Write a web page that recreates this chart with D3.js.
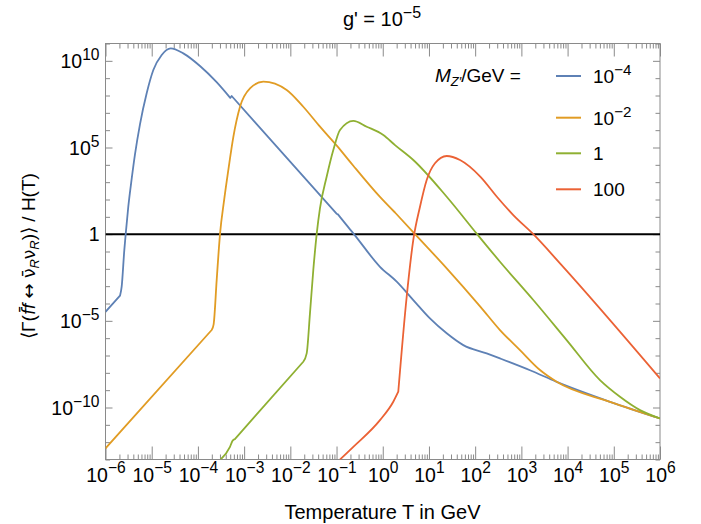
<!DOCTYPE html>
<html><head><meta charset="utf-8">
<script src="https://cdn.jsdelivr.net/npm/d3@7"></script>
<style>
body{margin:0;background:#fff}
svg{display:block}
text{font-family:"Liberation Sans",Arial,Helvetica,sans-serif;fill:#000}
</style>
</head><body>
<svg id="chart" width="701" height="524"></svg>
<script>
// ---------- data (log10 values) ----------
const xTickExps = [-6,-5,-4,-3,-2,-1,0,1,2,3,4,5,6];
const yLabelExps = [10,5,0,-5,-10];
const seriesLabels = [["10","−4"],["10","−2"],["1",""],["100",""]];
const seriesColors = ["#5E81B5","#E19C24","#8FB032","#EB6235"];
const titleText = ["g' = 10","−5"];

// M_Z' = 1e-4 GeV
const blueLogT = [-6,-5.686,-5.65,-5.593,-5.563,-5.507,-5.433,-5.362,-5.253,-5.109,-4.965,-4.784,-4.589,-4.316,-3.955,-3.6,-3.30,-3.27,-1.0,-0.97,-0.709,-0.637,-0.06,0.302,0.661,1.022,1.384,1.743,2.249,2.537,3.186,3.764,4.918,6];
const blueLogR = [-4.48,-3.55,-3.03,-0.92,0,1.58,3.2,4.6,6.35,8.13,9.47,10.34,10.72,10.43,9.7,8.78,7.86,7.97,1.18,1.14,0.28,0.05,-1.88,-2.74,-3.8,-4.86,-5.72,-6.4,-6.88,-7.17,-7.85,-8.52,-9.67,-10.63];
const blueCorners = [-5.686,-3.30,-3.27,-1.0,-0.97];

// M_Z' = 1e-2 GeV
const orangeLogT = [-6,-3.702,-3.66,-3.594,-3.544,-3.522,-3.436,-3.342,-3.234,-3.089,-2.873,-2.585,-2.079,-1.72,-1.358,-0.962,-0.637,-0.06,0.265,0.698,1.384,2.115,2.537,2.97,3.403,3.764,4.918,6];
const orangeLogR = [-12.36,-5.53,-5.2,-2.65,-0.73,0,1.9,3.7,5.6,7.35,8.41,8.80,8.32,7.35,6.2,5.01,3.95,2.15,1.25,0,-1.97,-4.19,-5.53,-6.69,-7.84,-8.52,-9.67,-10.63];
const orangeCorners = [-3.702,-0.962,0.265];

// M_Z' = 1 GeV
const greenLogT = [-3.507,-3.306,-3.25,-3.2,-1.72,-1.646,-1.575,-1.503,-1.43,-1.358,-1.214,-1.07,-0.925,-0.637,-0.348,0.012,0.265,0.661,1.384,2.043,2.537,3.258,3.98,4.701,5.134,5.567,6];
const greenLogR = [-13,-12.27,-11.92,-11.82,-7.36,-6.88,-4.57,-2.07,0,1.5,3.31,4.85,6.01,6.54,6.2,5.72,5.14,4.28,2.16,0,-1.59,-3.8,-6.11,-8.42,-9.38,-10.15,-10.63];
const greenCorners = [-3.2,-1.72];

// M_Z' = 100 GeV
const redLogT = [-0.925,-0.637,-0.06,0.228,0.336,0.518,0.661,0.806,0.951,1.13,1.384,1.672,2.115,2.47,2.825,3.258,3.836,6];
const redLogR = [-13,-12.27,-10.73,-9.67,-9.09,-3.61,-0.33,1.58,3.12,4.09,4.51,4.28,3.31,2.16,1.1,0,-1.68,-8.32];
const redCorners = [0.336];

const seriesLogT = [blueLogT, orangeLogT, greenLogT, redLogT];
const seriesLogR = [blueLogR, orangeLogR, greenLogR, redLogR];
const seriesCorners = [blueCorners, orangeCorners, greenCorners, redCorners];

// ---------- layout ----------
const L = 105.5, R = 660, T = 43.5, B = 459.5;
const svg = d3.select("#chart");
const x = d3.scaleLog().domain([1e-6, 1e6]).range([L, R]);
const y = d3.scaleLog().domain([1e-13, 1e11]).range([B, T]);
const frameColor = "#8a8a8a";

svg.append("defs").append("clipPath").attr("id","clip")
  .append("rect").attr("x",L).attr("y",T).attr("width",R-L).attr("height",B-T);

const xMinor = [];
for (let e=-6; e<6; e++) for (let m=2; m<=9; m++) xMinor.push(m*Math.pow(10,e));
const xMajor = xTickExps.map(e=>Math.pow(10,e));
const yAll = d3.range(-13,12).map(e=>Math.pow(10,e));
const yMajor = yLabelExps.map(e=>Math.pow(10,e));
const yMinor = yAll.filter(v=>!yMajor.some(m=>Math.abs(Math.log10(m)-Math.log10(v))<1e-9));

function styleAxis(g){
  g.select(".domain").remove();
  g.selectAll(".tick line").attr("stroke",frameColor).attr("stroke-width",1);
}
svg.append("g").attr("transform",`translate(0,${B})`)
  .call(d3.axisBottom(x).tickValues(xMinor).tickSize(-5).tickFormat("")).call(styleAxis);
svg.append("g").attr("transform",`translate(0,${T})`)
  .call(d3.axisTop(x).tickValues(xMinor).tickSize(-5).tickFormat("")).call(styleAxis);
svg.append("g").attr("transform",`translate(0,${T})`)
  .call(d3.axisTop(x).tickValues(xMajor).tickSize(-13).tickFormat("")).call(styleAxis);
const xAxisG = svg.append("g").attr("transform",`translate(0,${B})`)
  .call(d3.axisBottom(x).tickValues(xMajor).tickSize(-13).tickFormat("")).call(styleAxis);
svg.append("g").attr("transform",`translate(${L},0)`)
  .call(d3.axisLeft(y).tickValues(yMinor).tickSize(-4.5).tickFormat("")).call(styleAxis);
svg.append("g").attr("transform",`translate(${R},0)`)
  .call(d3.axisRight(y).tickValues(yMinor).tickSize(-4.5).tickFormat("")).call(styleAxis);
svg.append("g").attr("transform",`translate(${R},0)`)
  .call(d3.axisRight(y).tickValues(yMajor).tickSize(-7).tickFormat("")).call(styleAxis);
const yAxisG = svg.append("g").attr("transform",`translate(${L},0)`)
  .call(d3.axisLeft(y).tickValues(yMajor).tickSize(-7).tickFormat("")).call(styleAxis);

svg.append("rect").attr("x",L).attr("y",T).attr("width",R-L).attr("height",B-T)
  .attr("fill","none").attr("stroke",frameColor).attr("stroke-width",1);

function powLabel(sel, base, exp, size){
  sel.text(null);
  sel.append("tspan").text(base);
  if (exp) sel.append("tspan").attr("font-size", size*0.8).attr("dy", -size*0.42).text(exp);
}
const tickFont = 19.5;
xAxisG.selectAll(".tick").each(function(d){
  const e = Math.round(Math.log10(d));
  const t = d3.select(this).select("text").attr("font-size",tickFont).attr("fill","#000").attr("y",22).attr("dy",0);
  powLabel(t,"10", e<0 ? "−"+(-e) : String(e), tickFont);
});
yAxisG.selectAll(".tick").each(function(d){
  const e = Math.round(Math.log10(d));
  const t = d3.select(this).select("text").attr("font-size",tickFont).attr("fill","#000").attr("dy","0.35em").attr("x",-6);
  if (e===0) t.text("1");
  else powLabel(t,"10", e<0 ? "−"+(-e) : String(e), tickFont);
});

// curves: smooth pieces joined at the sharp corners seen in the reference
const plot = svg.append("g").attr("clip-path","url(#clip)");
plot.append("line").attr("x1",L).attr("x2",R).attr("y1",y(1)).attr("y2",y(1))
  .attr("stroke","#000").attr("stroke-width",2);
const line = d3.line().x(d=>x(d[0])).y(d=>y(d[1])).curve(d3.curveMonotoneX);
seriesLogT.forEach((lt,i)=>{
  const pts = lt.map((t,j)=>[Math.pow(10,t), Math.pow(10, seriesLogR[i][j])]);
  const cornerIdx = seriesCorners[i].map(c=>lt.indexOf(c));
  const cuts = [0, ...cornerIdx, lt.length-1];
  let d = "";
  for (let k=0; k<cuts.length-1; k++){
    const seg = line(pts.slice(cuts[k], cuts[k+1]+1));
    d += (k===0 ? seg : seg.replace(/^M[^LC]*/, ""));
  }
  plot.append("path").attr("d",d).attr("fill","none")
    .attr("stroke",seriesColors[i]).attr("stroke-width",1.8).attr("stroke-linejoin","round");
});

// title
const title = svg.append("text").attr("x",382).attr("y",26).attr("text-anchor","middle").attr("font-size",20);
powLabel(title, titleText[0], titleText[1], 20);

// x label
svg.append("text").attr("x",382.5).attr("y",519).attr("text-anchor","middle").attr("font-size",20)
  .text("Temperature T in GeV");

// y label
const yl = svg.append("text").attr("transform","translate(35,256) rotate(-90)")
  .attr("text-anchor","middle").attr("font-size",19);
yl.append("tspan").text("⟨Γ(");
yl.append("tspan").attr("font-family","DejaVu Sans").attr("font-style","italic").attr("font-size",17).text("f\u0304");
yl.append("tspan").attr("font-style","italic").text("f ");
yl.append("tspan").attr("font-family","DejaVu Sans").attr("font-size",18).text("↔");
yl.append("tspan").attr("font-family","DejaVu Sans").attr("font-size",17).text(" ν\u0304");
yl.append("tspan").attr("font-style","italic").attr("font-size",13).attr("dy",4).text("R");
yl.append("tspan").attr("font-family","DejaVu Sans").attr("font-size",17).attr("dy",-4).text("ν");
yl.append("tspan").attr("font-style","italic").attr("font-size",13).attr("dy",4).text("R");
yl.append("tspan").attr("dy",-4).text(")⟩ / H(T)");

// legend
const legFont = 19;
const lh = svg.append("text").attr("x",435).attr("y",82).attr("font-size",legFont);
lh.append("tspan").attr("font-style","italic").text("M");
lh.append("tspan").attr("font-style","italic").attr("font-size",13).attr("dy",4).text("Z′");
lh.append("tspan").attr("dy",-4).text("/GeV =");
const rowY = [76,117.7,153.3,189.3];
seriesLabels.forEach((lab,i)=>{
  svg.append("line").attr("x1",556).attr("x2",581).attr("y1",rowY[i]).attr("y2",rowY[i])
    .attr("stroke",seriesColors[i]).attr("stroke-width",2);
  const t = svg.append("text").attr("x",593).attr("y",rowY[i]+7).attr("font-size",legFont);
  powLabel(t, lab[0], lab[1], legFont);
});
</script>
</body></html>
